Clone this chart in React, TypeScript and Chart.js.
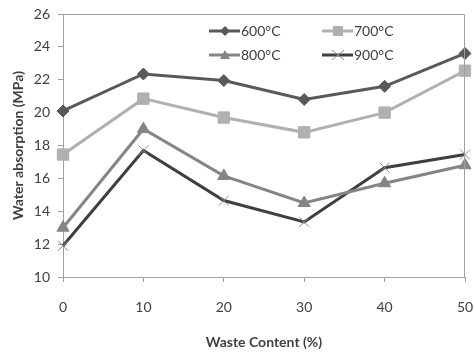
import React, { useEffect, useRef } from "react";
import { Chart, registerables } from "chart.js";
Chart.register(...registerables);

const categories = ["0", "10", "20", "30", "40", "50"];
const seriesLabels = ["600°C", "700°C", "800°C", "900°C"];
const s600 = [20.1, 22.35, 21.95, 20.8, 21.6, 23.6];
const s700 = [17.45, 20.85, 19.7, 18.8, 20.0, 22.55];
const s800 = [13.0, 19.0, 16.15, 14.5, 15.7, 16.8];
const s900 = [11.9, 17.7, 14.65, 13.35, 16.65, 17.45];
const yMin = 10;
const yMax = 26;
const yStep = 2;
const xTitle = "Waste Content (%)";
const yTitle = "Water absorption (MPa)";

const FONT = "Lato, 'Open Sans', sans-serif";
const TEXT = "#404040";
const AXIS = "#a0a0a0";

function drawMarker(ctx: CanvasRenderingContext2D, style: string, x: number, y: number, r: number, color: string) {
  ctx.save();
  ctx.fillStyle = color;
  ctx.strokeStyle = color;
  ctx.lineWidth = 1;
  ctx.beginPath();
  if (style === "rectRot") {
    ctx.moveTo(x, y - r);
    ctx.lineTo(x + r, y);
    ctx.lineTo(x, y + r);
    ctx.lineTo(x - r, y);
    ctx.closePath();
    ctx.fill();
  } else if (style === "rect") {
    ctx.rect(x - r, y - r, 2 * r, 2 * r);
    ctx.fill();
  } else if (style === "triangle") {
    ctx.moveTo(x, y - r);
    ctx.lineTo(x + r, y + r * 0.8);
    ctx.lineTo(x - r, y + r * 0.8);
    ctx.closePath();
    ctx.fill();
  } else {
    ctx.moveTo(x - r, y - r * 0.8);
    ctx.lineTo(x + r, y + r * 0.8);
    ctx.moveTo(x + r, y - r * 0.8);
    ctx.lineTo(x - r, y + r * 0.8);
    ctx.stroke();
  }
  ctx.restore();
}

const framePlugin = {
  id: "frameAndLegend",
  afterDraw(chart: any) {
    const { ctx, chartArea } = chart;
    ctx.save();
    ctx.strokeStyle = AXIS;
    ctx.lineWidth = 1;
    ctx.beginPath();
    ctx.moveTo(chartArea.left, chartArea.top + 0.5);
    ctx.lineTo(chartArea.right - 0.5, chartArea.top + 0.5);
    ctx.lineTo(chartArea.right - 0.5, chartArea.bottom);
    ctx.stroke();
    ctx.restore();

    const colX = [209, 322];
    const rowY = [31, 55];
    chart.data.datasets.forEach((ds: any, i: number) => {
      const x0 = colX[i % 2];
      const y = rowY[Math.floor(i / 2)];
      ctx.save();
      ctx.strokeStyle = ds.borderColor;
      ctx.lineWidth = 3;
      ctx.beginPath();
      ctx.moveTo(x0, y);
      ctx.lineTo(x0 + 31, y);
      ctx.stroke();
      ctx.restore();
      const ms = ds.pointStyle;
      const mr = ms === "rect" ? 5 : ms === "crossRot" ? 6 : 5;
      drawMarker(ctx, ms, x0 + 16, y, mr, ds.pointBorderColor);
      ctx.save();
      ctx.fillStyle = TEXT;
      ctx.font = `14px ${FONT}`;
      ctx.textBaseline = "middle";
      ctx.textAlign = "left";
      ctx.fillText(ds.label, x0 + 32, y);
      ctx.restore();
    });
  },
};

export default function App() {
  const ref = useRef<HTMLCanvasElement | null>(null);
  useEffect(() => {
    if (!ref.current) return;
    const mk = (label: string, data: number[], line: string, marker: string, style: string, radius: number) => ({
      label,
      data,
      borderColor: line,
      backgroundColor: marker,
      pointBackgroundColor: marker,
      pointBorderColor: marker,
      pointBorderWidth: 1,
      pointStyle: style,
      pointRadius: radius,
      borderWidth: 3,
      tension: 0,
      fill: false,
    });
    const chart = new Chart(ref.current, {
      type: "line",
      data: {
        labels: categories,
        datasets: [
          mk(seriesLabels[0], s600, "#595959", "#595959", "rectRot", 6),
          mk(seriesLabels[1], s700, "#b0b0b0", "#b0b0b0", "rect", 8),
          mk(seriesLabels[2], s800, "#858585", "#858585", "triangle", 7),
          mk(seriesLabels[3], s900, "#3f3f3f", "#8a8a8a", "crossRot", 7),
        ] as any,
      },
      plugins: [framePlugin],
      options: {
        animation: false,
        responsive: false,
        maintainAspectRatio: false,
        layout: { padding: { top: 14, right: 6, left: 0, bottom: 0 } },
        plugins: { legend: { display: false }, tooltip: { enabled: false } },
        scales: {
          x: {
            type: "category",
            offset: false,
            grid: { display: true, drawOnChartArea: false, drawTicks: true, tickLength: 5, color: AXIS },
            border: { display: true, color: AXIS },
            ticks: { color: TEXT, font: { family: FONT, size: 14 }, padding: 17, maxRotation: 0, autoSkip: false },
            title: { display: true, text: xTitle, color: TEXT, font: { family: FONT, size: 14, weight: "bold" }, padding: { top: 5, bottom: 5 } },
            afterFit(scale: any) {
              scale.height = 79;
              scale.paddingRight = 0;
              scale.paddingLeft = 0;
            },
          },
          y: {
            min: yMin,
            max: yMax,
            grid: { display: true, drawOnChartArea: false, drawTicks: true, tickLength: 5, color: AXIS },
            border: { display: true, color: AXIS },
            ticks: { stepSize: yStep, color: TEXT, font: { family: FONT, size: 14 }, padding: 8 },
            title: { display: true, text: yTitle, color: TEXT, font: { family: FONT, size: 14, weight: "bold" }, padding: { top: 10, bottom: 10 } },
            afterFit(scale: any) {
              scale.width = 63;
              scale.paddingTop = 0;
              scale.paddingBottom = 0;
            },
          },
        },
      } as any,
    });
    return () => chart.destroy();
  }, []);
  return (
    <div style={{ position: "fixed", left: 0, top: 0, width: 474, height: 356, background: "#fff" }}>
      <canvas ref={ref} width={474} height={356} style={{ display: "block" }} />
    </div>
  );
}
